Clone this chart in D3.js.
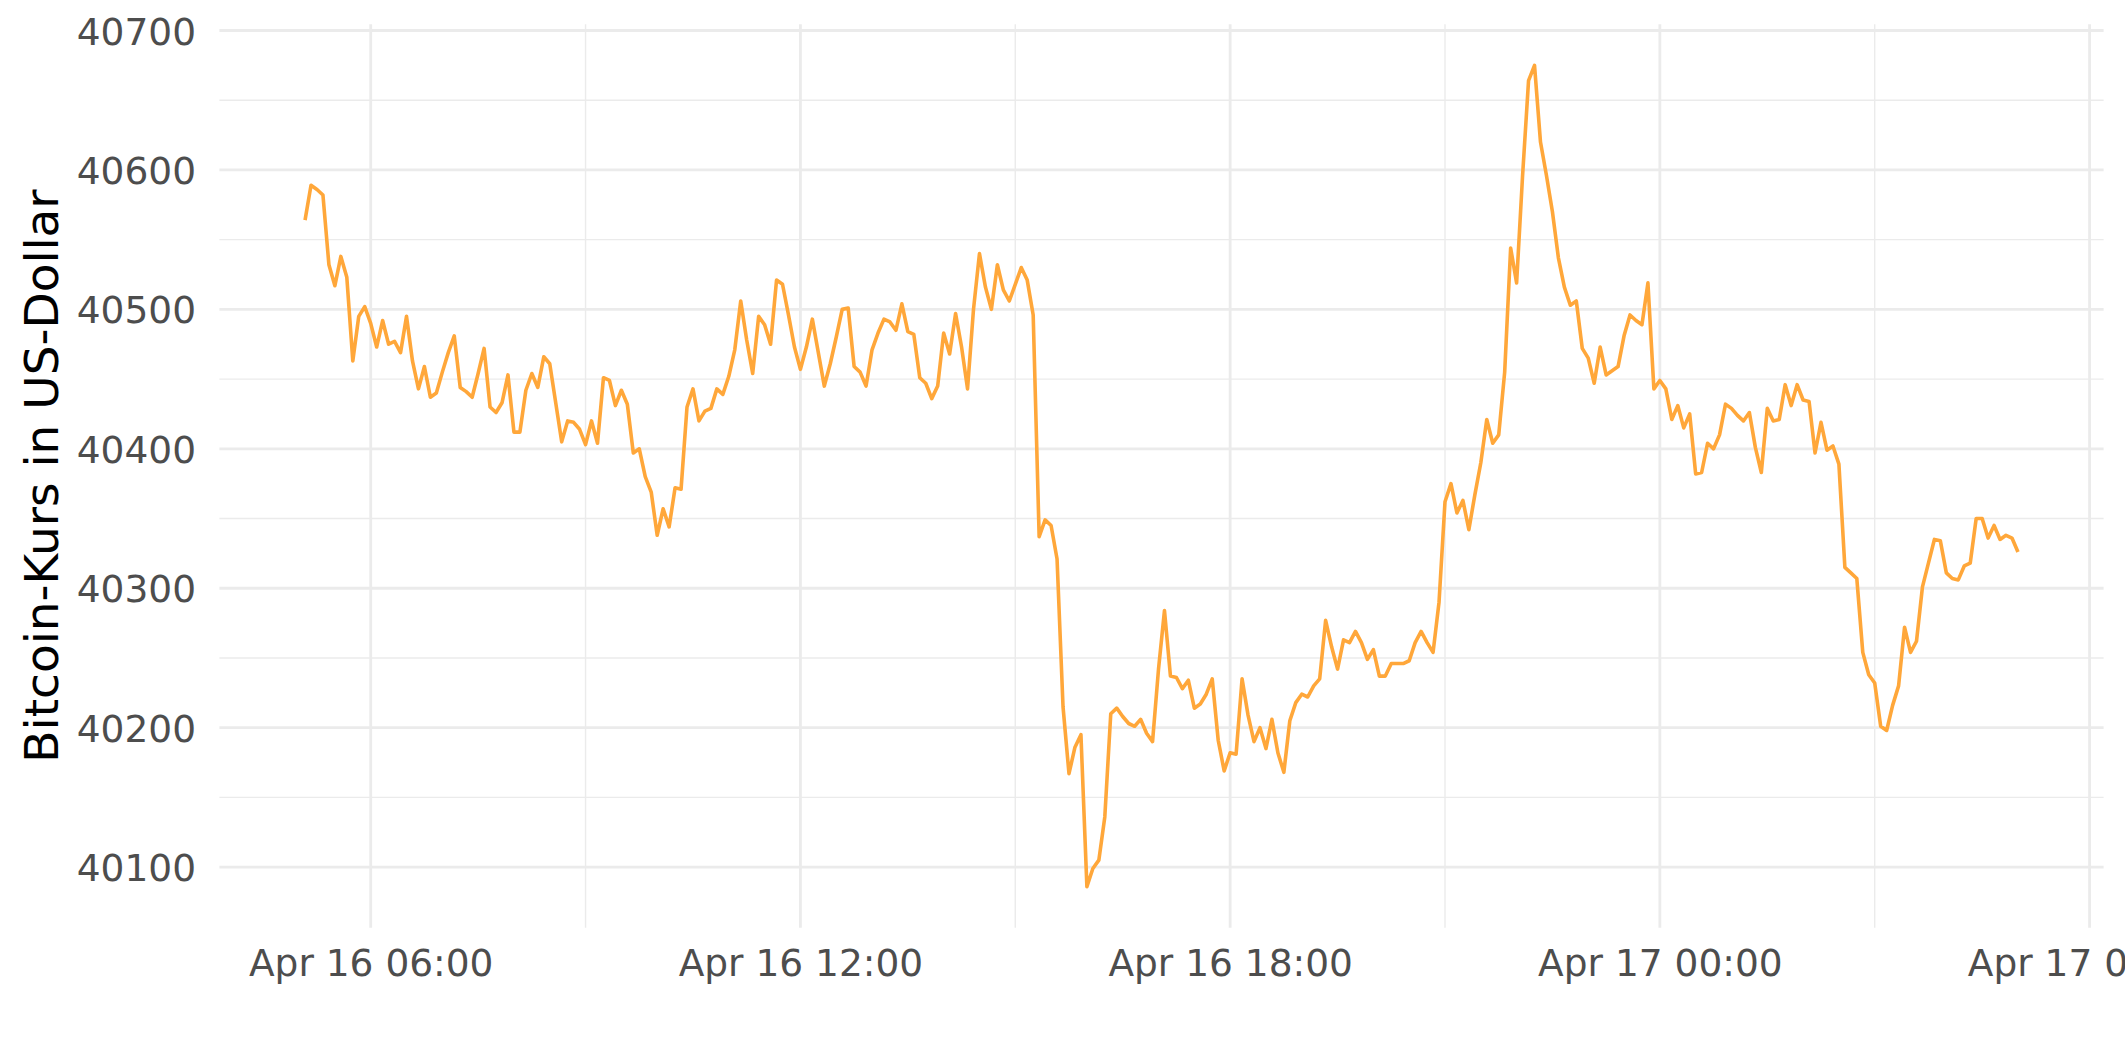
<!DOCTYPE html>
<html><head><meta charset="utf-8">
<script src="https://cdn.jsdelivr.net/npm/d3@7"></script>
<style>body{margin:0;background:#fff}svg{display:block}</style>
</head><body>
<svg id="chart" width="2125" height="1062"></svg>
<script>
// ---- data ----
const startTime = "2022-04-16 05:05";
const stepMinutes = 5;
const prices = [
40564,40589,40586,40582,40532,40517,40538,40523,40463,40495,
40502,40490,40473,40492,40475,40477,40469,40495,40463,40443,
40459,40437,40440,40455,40469,40481,40444,40441,40437,40454,
40472,40430,40426,40433,40453,40412,40412,40442,40454,40444,
40466,40461,40433,40405,40420,40419,40414,40403,40420,40404,
40451,40449,40431,40442,40432,40397,40400,40380,40369,40338,
40357,40344,40372,40371,40430,40443,40420,40427,40429,40443,
40439,40452,40471,40506,40478,40454,40495,40489,40475,40521,
40518,40496,40473,40457,40473,40493,40469,40445,40461,40480,
40500,40501,40459,40455,40445,40471,40483,40493,40491,40485,
40504,40484,40482,40451,40447,40436,40445,40483,40468,40497,
40473,40443,40500,40540,40516,40500,40532,40514,40506,40518,
40530,40521,40496,40337,40349,40345,40321,40215,40167,40186,
40195,40086,40099,40105,40136,40210,40214,40208,40203,40201,
40206,40196,40190,40242,40284,40237,40236,40228,40234,40214,
40217,40224,40235,40191,40169,40182,40181,40235,40209,40190,
40200,40185,40206,40182,40168,40205,40218,40224,40222,40230,
40235,40277,40258,40242,40263,40261,40269,40261,40249,40256,
40237,40237,40246,40246,40246,40248,40261,40269,40261,40254,
40290,40362,40375,40354,40363,40342,40367,40390,40421,40404,
40410,40455,40544,40519,40596,40664,40675,40620,40596,40570,
40537,40516,40503,40506,40472,40465,40447,40473,40453,40456,
40459,40481,40496,40492,40489,40519,40443,40449,40443,40421,
40431,40415,40425,40382,40383,40404,40400,40410,40432,40429,
40424,40420,40426,40401,40383,40429,40420,40421,40446,40431,
40446,40435,40434,40397,40419,40399,40402,40389,40315,40311,
40307,40254,40238,40232,40201,40198,40216,40230,40272,40254,
40262,40301,40318,40335,40334,40311,40307,40306,40316,40318,
40350,40350,40336,40345,40335,40338,40336,40326
];
const yMajorTicks = [40100, 40200, 40300, 40400, 40500, 40600, 40700];
const yMinorTicks = [40150, 40250, 40350, 40450, 40550, 40650];
const xMajorTicks = ["2022-04-16 06:00", "2022-04-16 12:00", "2022-04-16 18:00", "2022-04-17 00:00", "2022-04-17 06:00"];
const xMinorTicks = ["2022-04-16 09:00", "2022-04-16 15:00", "2022-04-16 21:00", "2022-04-17 03:00"];
const yTitle = "Bitcoin-Kurs in US-Dollar";

// ---- build ----
const parse = d3.timeParse("%Y-%m-%d %H:%M");
const t0 = parse(startTime);
const series = prices.map((v, i) => ({ t: d3.timeMinute.offset(t0, i * stepMinutes), v }));

const panel = { left: 219.4, right: 2103.6, top: 24.3, bottom: 927.7 };

const tExt = d3.extent(series, d => d.t);
const tPad = (tExt[1] - tExt[0]) * 0.05;
const x = d3.scaleTime()
  .domain([new Date(+tExt[0] - tPad), new Date(+tExt[1] + tPad)])
  .range([panel.left, panel.right]);

const vExt = d3.extent(series, d => d.v);
const vPad = (vExt[1] - vExt[0]) * 0.05;
const y = d3.scaleLinear()
  .domain([vExt[0] - vPad, vExt[1] + vPad])
  .range([panel.bottom, panel.top]);

const svg = d3.select("#chart");
svg.append("rect").attr("width", 2125).attr("height", 1062).attr("fill", "#fff");

const grid = svg.append("g");
const gridColor = "#EBEBEB";
// minor grid
grid.selectAll(".hmin").data(yMinorTicks).join("line")
  .attr("x1", panel.left).attr("x2", panel.right)
  .attr("y1", d => y(d)).attr("y2", d => y(d))
  .attr("stroke", gridColor).attr("stroke-width", 1.4);
grid.selectAll(".vmin").data(xMinorTicks.map(parse)).join("line")
  .attr("x1", d => x(d)).attr("x2", d => x(d))
  .attr("y1", panel.top).attr("y2", panel.bottom)
  .attr("stroke", gridColor).attr("stroke-width", 1.4);
// major grid
grid.append("g").selectAll("line").data(yMajorTicks).join("line")
  .attr("x1", panel.left).attr("x2", panel.right)
  .attr("y1", d => y(d)).attr("y2", d => y(d))
  .attr("stroke", gridColor).attr("stroke-width", 2.8);
grid.append("g").selectAll("line").data(xMajorTicks.map(parse)).join("line")
  .attr("x1", d => x(d)).attr("x2", d => x(d))
  .attr("y1", panel.top).attr("y2", panel.bottom)
  .attr("stroke", gridColor).attr("stroke-width", 2.8);

// line
const line = d3.line().x(d => x(d.t)).y(d => y(d.v));
svg.append("path").datum(series)
  .attr("d", line)
  .attr("fill", "none")
  .attr("stroke", "#FFA73A")
  .attr("stroke-width", 3.6)
  .attr("stroke-linejoin", "round");

// axes
const font = "'DejaVu Sans', sans-serif";
const yAxis = d3.axisLeft(y).tickValues(yMajorTicks).tickSize(0).tickPadding(0).tickFormat(d3.format("d"));
const gy = svg.append("g").attr("transform", "translate(196,0)").call(yAxis);
gy.select(".domain").remove();
gy.selectAll("text").attr("font-family", font).attr("font-size", 37.5).attr("fill", "#4D4D4D")
  .attr("x", 0).attr("dy", "0.36em").attr("text-anchor", "end");

const xAxis = d3.axisBottom(x).tickValues(xMajorTicks.map(parse)).tickSize(0).tickPadding(0)
  .tickFormat(d3.timeFormat("%b %d %H:%M"));
const gx = svg.append("g").attr("transform", "translate(0,949)").call(xAxis);
gx.select(".domain").remove();
gx.selectAll("text").attr("font-family", font).attr("font-size", 37.5).attr("fill", "#4D4D4D")
  .attr("y", 0).attr("dy", "0.73em");

// y title
svg.append("text")
  .attr("transform", `translate(58,${(panel.top + panel.bottom) / 2}) rotate(-90)`)
  .attr("text-anchor", "middle")
  .attr("font-family", font).attr("font-size", 47).attr("fill", "#000")
  .text(yTitle);
</script>
</body></html>
